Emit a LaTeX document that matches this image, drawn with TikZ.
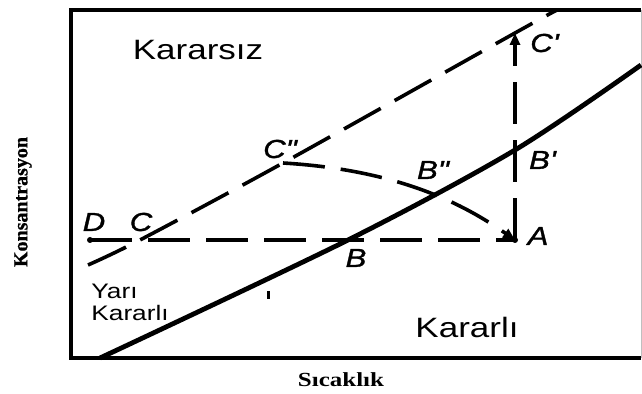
\documentclass[tikz,border=0pt]{standalone}
\usepackage{fontspec}
\newfontfamily\regionfont[FakeStretch=1.25]{Liberation Sans}
\newfontfamily\pointfont[FakeStretch=1.2,FakeBold=1.2]{Liberation Sans Italic}
\newfontfamily\axisfont[FakeStretch=1.25]{Liberation Serif Bold}
\newfontfamily\axisvfont[FakeBold=0.8]{Liberation Serif Bold}
\usetikzlibrary{arrows.meta}

\begin{document}
\begin{tikzpicture}[
                    % pixel-like units, y pointing down
                    x=0.5pt, y=-0.5pt,
                    frame line/.style={line width=2pt, color=black},
                    curve line/.style={line width=2.4pt, color=black},
                    guide line/.style={line width=1.8pt, dash pattern=on 21pt off 8pt},
                    tip/.style={-{Triangle[length=6pt,width=5pt]}},
                    region/.style={font=\regionfont\fontsize{14}{16}\selectfont},
                    region small/.style={font=\regionfont\fontsize{10.5}{11}\selectfont, align=left, inner sep=0pt},
                    point label/.style={font=\pointfont\fontsize{13}{15}\selectfont, inner sep=0pt},
                    axis label/.style={font=\axisfont\fontsize{10}{12}\selectfont}
                  ]
  \useasboundingbox (0,0) rectangle (642,394);

  % --- Define dimensions for the frame ---
  \def\Xl{71}    % left edge
  \def\Xr{641}   % right edge
  \def\Yt{10}    % top edge
  \def\Yb{358}   % bottom edge

  % --- frame ---
  \draw[frame line] (\Xr,\Yt) -- (\Xl,\Yt) -- (\Xl,\Yb) -- (\Xr,\Yb);
  \draw[black!25, line width=0.5pt] (\Xr,\Yt) -- (\Xr,\Yb);

  % --- points of the process ---
  \coordinate (D) at (90,240);
  \coordinate (C) at (140,240);
  \coordinate (B) at (348,240);
  \coordinate (A) at (515,240);
  \coordinate (Bp) at (515,150);
  \coordinate (Cp) at (515,33);
  \coordinate (Cpp) at (283,163);

  % solubility curve (solid)
  \draw[curve line] plot[smooth, tension=0.5] coordinates {(100,\Yb) (B) (Bp) (\Xr,65)};

  % supersolubility curve (dashed)
  \draw[guide line] plot[smooth, tension=0.5] coordinates {(88,265) (C) (Cpp) (Cp) (557,\Yt)};

  % cooling at constant concentration
  \draw[guide line] (D) -- (A);
  \fill (D) circle (3);
  \fill (A) circle (3);

  % evaporation at constant temperature
  \draw[guide line, tip] (A) -- (Cp);

  % combined path
  \draw[guide line, tip] (Cpp) .. controls (400,170) and (465,205) .. (A);

  % small tick
  \draw[line width=1.5pt] (268,291) -- (268,299);

  % --- labels ---
  \node[point label] (lD) at (94,222) {D};
  \node[point label] (lC) at (141,222) {C};
  \node[point label] (lCpp) at (280,149) {C"};
  \node[point label] (lBpp) at (433,170) {B"};
  \node[point label] (lBp) at (542,160) {B\textquotesingle};
  \node[point label] (lCp) at (544,43) {C\textquotesingle};
  \node[point label] (lA) at (538,236) {A};
  \node[point label] (lB) at (356,258) {B};

  \node[region] (unstable) at (198,50) {Kararsız};
  \node[region] (stable) at (467,327) {Kararlı};
  \node[region small, anchor=north west] (meta) at (91,284) {Yarı\\Kararlı};

  \node[axis label] (xlab) at (341,380) {Sıcaklık};
  \node[font=\axisvfont\fontsize{10}{12}\selectfont, rotate=90] (ylab) at (23,202) {Konsantrasyon};

\end{tikzpicture}
\end{document}
